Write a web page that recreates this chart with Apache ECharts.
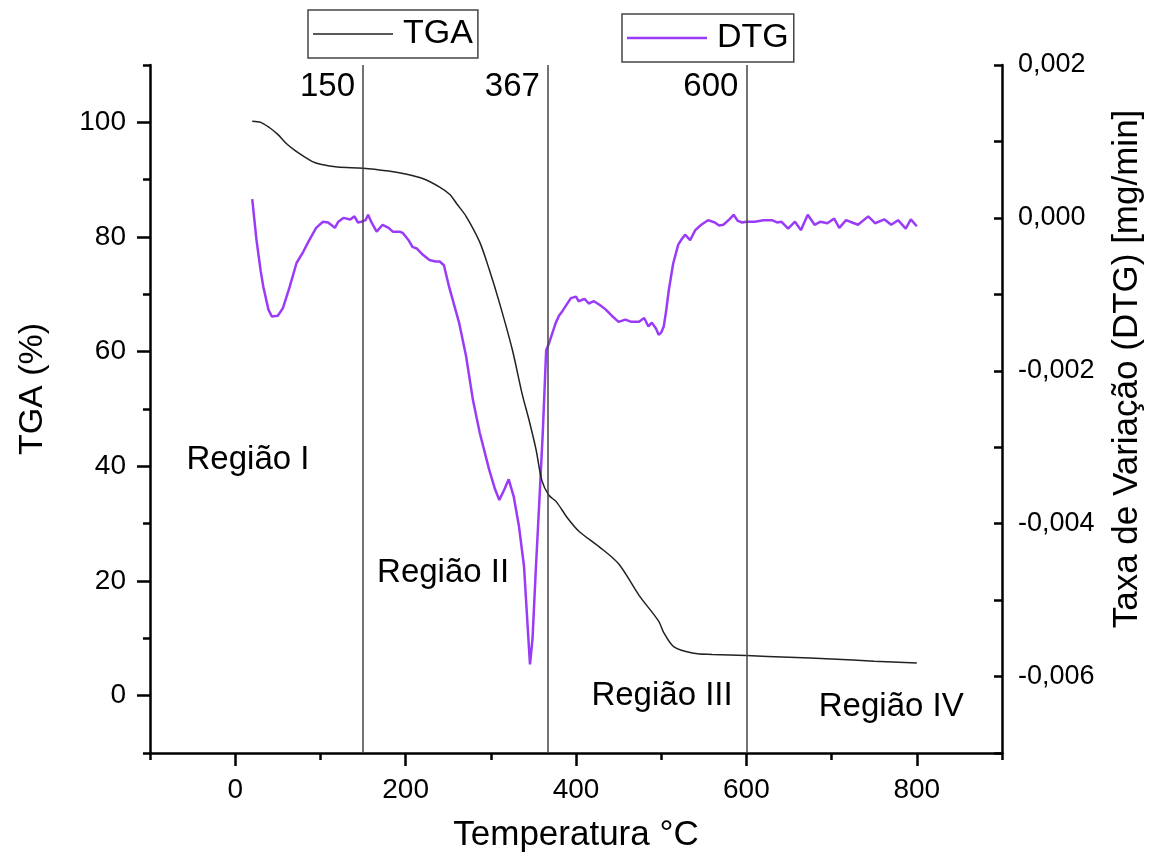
<!DOCTYPE html>
<html lang="pt">
<head>
    <meta charset="UTF-8">
    <title>TGA / DTG</title>
    <style>
        * {
            margin: 0;
            padding: 0;
        }

        html, body {
            height: 100%;
            width: 100%;
            background: #fff;
        }
    </style>
    <script src="https://cdn.jsdelivr.net/npm/echarts@6/dist/echarts.min.js"></script>
</head>
<body>

<div id="main" style="width: 1153px;height: 861px;"></div>

<script>
    // curva TGA (%)
    var tgaTemp = [20, 30, 40, 50, 60, 70, 80, 90, 100, 120, 150, 180, 200, 220, 240, 252, 260, 271, 287, 298,
        310, 325, 337, 345, 353, 360, 368, 377, 390, 404, 427, 450, 474, 497, 503, 515, 538, 560, 600, 650,
        700, 750, 800];
    var tgaValue = [100.2, 100.0, 99.1, 97.9, 96.3, 95.1, 94.1, 93.2, 92.7, 92.2, 92.0, 91.5, 91.0, 90.2, 88.7, 87.4, 85.8, 83.6, 79.1, 74.4,
        68.6, 60.5, 52.5, 48.0, 43.0, 37.5, 35.0, 33.8, 31.0, 28.6, 26.0, 23.0, 17.5, 13.0, 11.0, 8.5, 7.4, 7.2, 7.0, 6.7,
        6.4, 6.0, 5.7];

    // curva DTG (mg/min)
    var dtgTemp = [20, 25, 30, 33, 39, 43, 50, 56, 64, 72, 80, 86, 95, 103, 109, 117, 121, 127, 135, 140,
        144, 148, 153, 156, 160, 166, 173, 180, 185, 193, 197, 204, 208, 213, 220, 228, 235, 240, 245, 251,
        263, 271, 279, 287, 298, 305, 310, 316, 321, 327, 333, 339, 343, 346, 349, 353, 357, 361, 365, 368,
        376, 380, 384, 394, 400, 403, 410, 415, 421, 428, 435, 442, 450, 458, 465, 474, 480, 485, 489, 494,
        497, 500, 503, 506, 509, 514, 520, 524, 528, 534, 540, 547, 555, 563, 568, 573, 580, 585, 590, 595,
        600, 610, 620, 630, 636, 641, 649, 657, 664, 672, 680, 687, 695, 703, 709, 717, 724, 731, 743, 751,
        762, 770, 778, 787, 793, 800];
    var dtgValue = [0.000245, -0.00029, -0.0007, -0.0009, -0.0012, -0.00129, -0.00128, -0.00118, -0.0009, -0.00059,
        -0.00044, -0.00031, -0.00013, -0.00005, -0.00006, -0.00013, -0.00005, 0, -0.00002, 0.00002,
        -0.00006, -0.00005, -0.00003, 0.00004, -0.00006, -0.00018, -0.00009, -0.00013, -0.00018, -0.00018,
        -0.0002, -0.0003, -0.00038, -0.0004, -0.00048, -0.00055, -0.00057, -0.00057, -0.00062, -0.0009,
        -0.00138, -0.00181, -0.00238, -0.00281, -0.00329, -0.00355, -0.00369, -0.00355, -0.00342, -0.00365,
        -0.00403, -0.00456, -0.0053, -0.00584, -0.0055, -0.00456, -0.0037, -0.00281, -0.00173, -0.00165,
        -0.00138, -0.00128, -0.00122, -0.00105, -0.00103, -0.00109, -0.00106, -0.00112, -0.00109, -0.00114,
        -0.0012, -0.00128, -0.00136, -0.00133, -0.00136, -0.00136, -0.00131, -0.00142, -0.00137, -0.00145,
        -0.00153, -0.0015, -0.00142, -0.0012, -0.00094, -0.0006, -0.00035, -0.00028, -0.00022, -0.00029,
        -0.00016, -0.00009, -0.00003, -0.00006, -0.0001, -0.00009, -0.00002, 0.00004, -0.00004, -0.00006,
        -0.00005, -0.00005, -0.00003, -0.00003, -0.00006, -0.00005, -0.00014, -0.00005, -0.00016, 0.00004,
        -0.00009, -0.00005, -0.00007, -0.00001, -0.00013, -0.00003, -0.00006, -0.00009, 0.00002, -0.00007,
        -0.00002, -0.00009, -0.00003, -0.00014, -0.00002, -0.00011];

    // linhas verticais e textos
    var cutTemps = [150, 367, 600];
    var regionNames = ['Região I', 'Região II', 'Região III', 'Região IV'];
    var regionTemp = [15, 244, 501, 770];
    var regionTga = [41.1, 21.4, 0.0, -1.9];

    // ticks
    var xLabelTicks = [0, 200, 400, 600, 800];
    var xMinorTicks = [-100, 100, 300, 500, 700, 900];
    var yLabelTicks = [0, 20, 40, 60, 80, 100];
    var yMinorTicks = [-10, 10, 30, 50, 70, 90, 110];
    var dtgLabelTicks = [-0.006, -0.004, -0.002, 0, 0.002];
    var dtgAllTicks = [-0.007, -0.006, -0.005, -0.004, -0.003, -0.002, -0.001, 0, 0.001, 0.002];

    var FONT = 'Liberation Sans, Arial, sans-serif';
    var purple = '#9a3cf7';

    var tgaData = tgaTemp.map(function (t, i) { return [t, tgaValue[i]]; });
    var dtgData = dtgTemp.map(function (t, i) { return [t, dtgValue[i]]; });

    var labelData = cutTemps.map(function (t) {
        return {name: String(t), value: [t, 106.1]};
    });
    var regionData = regionNames.map(function (n, i) {
        return {name: n, value: [regionTemp[i], regionTga[i]]};
    });

    var myChart = echarts.init(document.getElementById('main'));

    var axisLine = {show: true, onZero: false, lineStyle: {color: '#000', width: 2.5}};
    var noLine = {show: false, onZero: false};
    var textLabel = {
        show: true, formatter: '{b}', fontSize: 33, color: '#000', fontFamily: FONT,
        textBorderWidth: 0, opacity: 1
    };

    var option = {
        animation: false,
        backgroundColor: '#fff',
        textStyle: {fontFamily: FONT},
        grid: {left: 150, right: 148, top: 65, bottom: 108, containLabel: false},
        legend: [
            {
                data: ['TGA'], left: 308, top: 10, icon: 'rect',
                borderColor: '#444', borderWidth: 1.5, padding: [7, 5, 7, 5],
                itemWidth: 80, itemHeight: 1.5, selectedMode: false,
                textStyle: {fontSize: 34, color: '#000', fontFamily: FONT, padding: [0, 0, 0, 5]}
            },
            {
                data: ['DTG'], left: 622, top: 14, icon: 'rect',
                borderColor: '#444', borderWidth: 1.5, padding: [7, 5, 7, 5],
                itemWidth: 80, itemHeight: 2.5, selectedMode: false,
                textStyle: {fontSize: 34, color: '#000', fontFamily: FONT, padding: [0, 0, 0, 5]}
            }
        ],
        xAxis: [
            {
                type: 'value', min: -100, max: 900,
                name: 'Temperatura °C', nameLocation: 'middle', nameGap: 65,
                nameTextStyle: {fontSize: 35, color: '#000', fontFamily: FONT},
                axisLine: axisLine,
                axisTick: {show: true, length: 13, lineStyle: {color: '#000', width: 2.5}, customValues: xLabelTicks},
                axisLabel: {fontSize: 28, color: '#000', margin: 23, fontFamily: FONT, customValues: xLabelTicks},
                splitLine: {show: false}
            },
            {
                type: 'value', min: -100, max: 900, position: 'bottom', gridIndex: 0,
                axisLine: noLine,
                axisTick: {show: true, length: 7, lineStyle: {color: '#000', width: 2.5}, customValues: xMinorTicks},
                axisLabel: {show: false},
                splitLine: {show: false}
            }
        ],
        yAxis: [
            {
                type: 'value', min: -10, max: 110, position: 'left',
                name: 'TGA (%)', nameLocation: 'middle', nameGap: 100,
                nameTextStyle: {fontSize: 34, color: '#000', fontFamily: FONT, padding: [0, 0, 0, 40]},
                axisLine: axisLine,
                axisTick: {show: true, length: 13, lineStyle: {color: '#000', width: 2.5}, customValues: yLabelTicks},
                axisLabel: {fontSize: 28, color: '#000', margin: 24, fontFamily: FONT, customValues: yLabelTicks},
                splitLine: {show: false}
            },
            {
                type: 'value', min: -0.007, max: 0.002, position: 'right',
                name: 'Taxa de Variação (DTG) [mg/min]', nameLocation: 'middle', nameGap: 108,
                nameTextStyle: {fontSize: 35, color: '#000', fontFamily: FONT, padding: [0, 0, 0, 80]},
                axisLine: axisLine,
                axisTick: {show: true, inside: true, length: 8, lineStyle: {color: '#000', width: 2.5}, customValues: dtgAllTicks},
                axisLabel: {
                    fontSize: 27, color: '#000', margin: 16, fontFamily: FONT, customValues: dtgLabelTicks,
                    formatter: function (v) {
                        var s = Math.abs(v) < 1e-9 ? '0.000' : v.toFixed(3);
                        return s.replace('.', ',');
                    }
                },
                splitLine: {show: false}
            },
            {
                type: 'value', min: -10, max: 110, position: 'left', gridIndex: 0,
                axisLine: noLine,
                axisTick: {show: true, length: 7, lineStyle: {color: '#000', width: 2.5}, customValues: yMinorTicks},
                axisLabel: {show: false},
                splitLine: {show: false}
            }
        ],
        series: [
            {
                name: 'TGA',
                type: 'line',
                xAxisIndex: 0,
                yAxisIndex: 0,
                symbol: 'none',
                smooth: 0.3,
                data: tgaData,
                lineStyle: {color: '#222', width: 1.5},
                itemStyle: {color: '#222'},
                markLine: {
                    silent: true,
                    symbol: 'none',
                    label: {show: false},
                    lineStyle: {color: '#444', width: 1.5, type: 'solid'},
                    data: cutTemps.map(function (t) { return {xAxis: t}; })
                },
                z: 3
            },
            {
                name: 'DTG',
                type: 'line',
                xAxisIndex: 0,
                yAxisIndex: 1,
                symbol: 'none',
                data: dtgData,
                lineStyle: {color: purple, width: 2.5},
                itemStyle: {color: purple},
                z: 2
            },
            {
                name: 'cortes',
                type: 'scatter',
                xAxisIndex: 0,
                yAxisIndex: 0,
                symbolSize: 0,
                silent: true,
                itemStyle: {color: '#000'},
                data: labelData,
                label: Object.assign({position: 'left', distance: 8}, textLabel)
            },
            {
                name: 'regioes',
                type: 'scatter',
                xAxisIndex: 0,
                yAxisIndex: 0,
                symbolSize: 0,
                silent: true,
                itemStyle: {color: '#000'},
                data: regionData,
                label: Object.assign({position: 'inside'}, textLabel)
            }
        ]
    };
    myChart.setOption(option);
</script>

</body>
</html>
